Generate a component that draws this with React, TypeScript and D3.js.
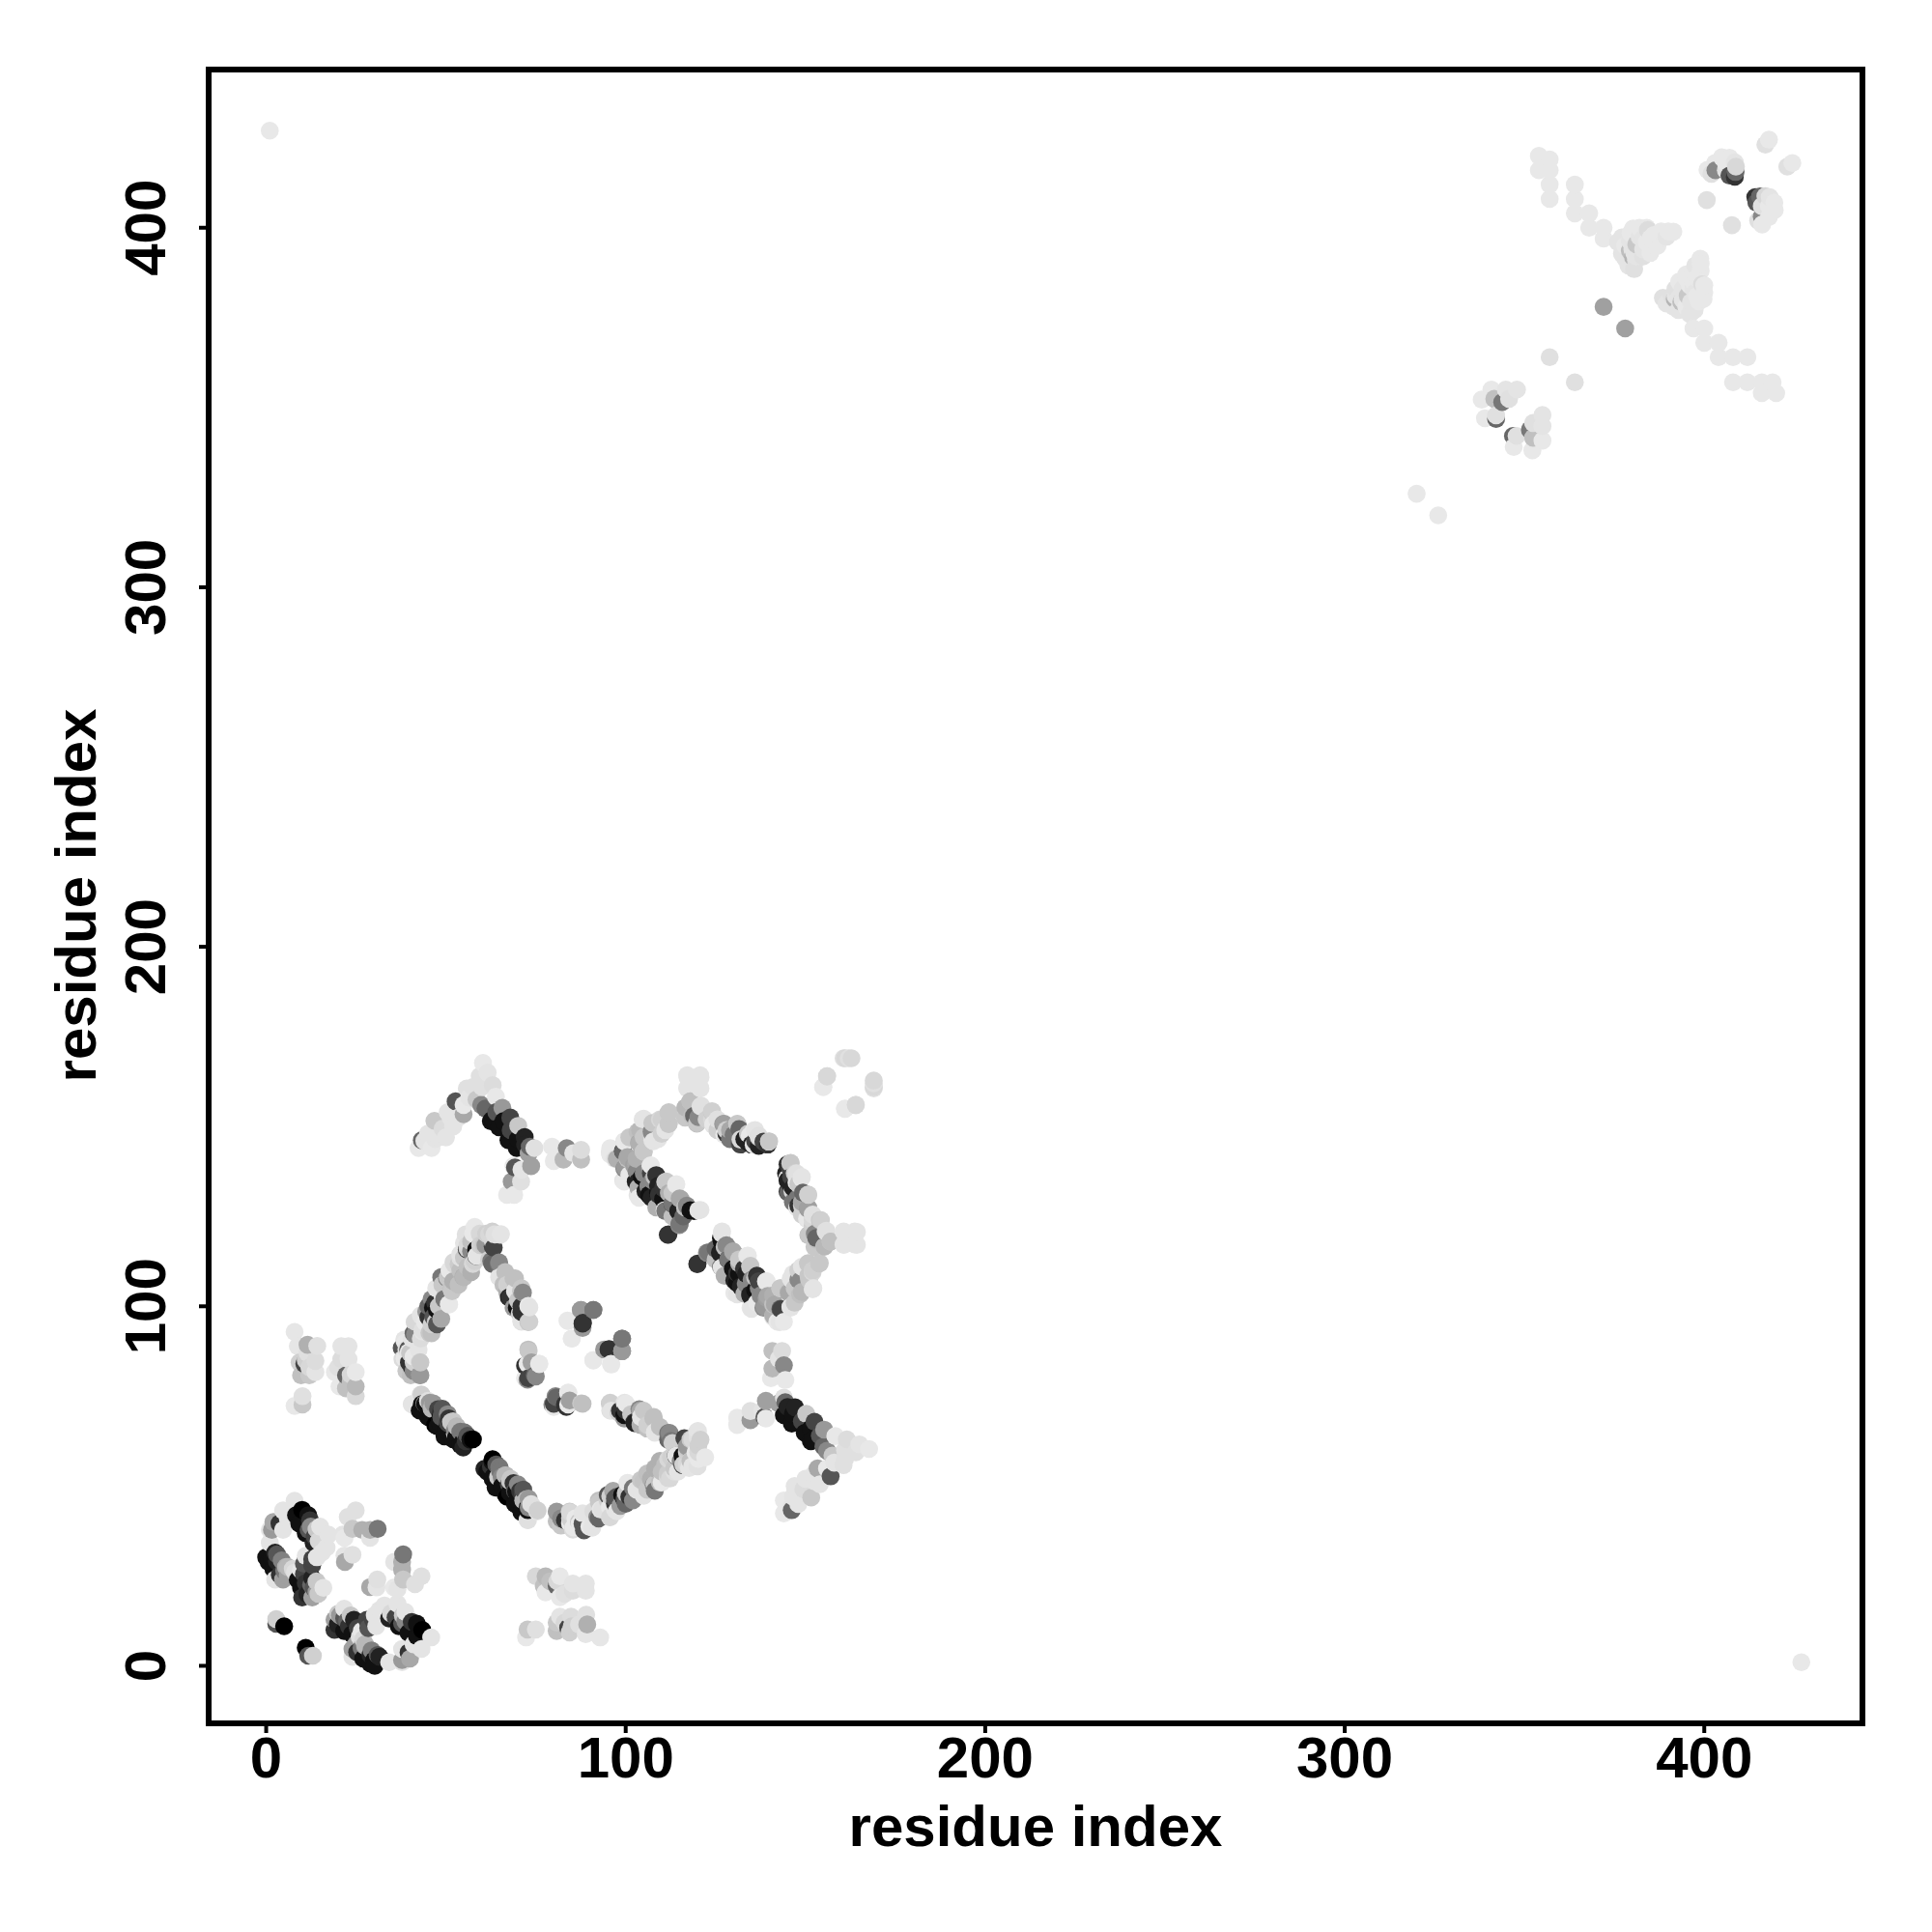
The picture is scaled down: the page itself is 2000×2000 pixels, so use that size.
import React from "react";
import * as d3 from "d3";

type C = [number, number, number];

// Contacts as [residue i, residue j, shade 0..255]; the map is symmetric.
const helixPairs: C[] = [
  [7.9,45.9,228],[4.7,43.2,228],[2,40,168],[1.6,37.8,153],[3.7,39.6,51],[4.7,37.8,228],[1,37.8,228],[1,34.2,228],[6,41,228],
  [8.3,41.9,17],[9.2,39.6,17],[10,43.4,0],[11,36.9,17],[11.7,41.9,17],[12.4,38.7,136],[12.2,40.5,51],[13.2,34.2,34],[11.8,37.8,85],[13.5,36,68],[14,38,200],[15,38.7,228],[17.3,36.5,228],[14.6,34.7,216],
  [21.3,36.5,228],[24.9,43.2,224],[22.7,41.4,224],[24,38.1,200],[21.8,35.6,232],[26.7,37.8,176],[28.9,37.8,176],[28.9,35.6,228],[31,38.1,119],
  [21.9,28.9,168],[21.8,30.7,228],[24,30.9,224],
  [11,30.6,228],[12.8,29.7,68],[12.8,28,68],[10.5,28.4,85],[15.5,31.5,228],[14.1,30.2,228],[16.8,32.9,228],
  [0,30.2,17],[0.7,28.9,17],[1.5,30,17],[2,27,17],[3,29,34],[2.5,31.5,34],[3,31,85],[4.3,29.3,128],[5.5,27.5,176],[5,26.5,119],[6,27.5,184],[7.4,27,216],[8,26,224],[3.8,25.3,51],[2.5,24,228],[4.7,24,160],[6,25,160],
  [8.8,23.9,17],[9.7,21.7,17],[10,19,51],[10.5,25.5,68],[11,23,51],[11.5,19.9,34],[12.5,22.5,102],[12.8,24.4,34],[13.2,21.7,85],[14,20.5,153],[14,23.5,200],[14.5,20,200],[15.9,21.7,228],[12.8,19,160],[9.7,26.6,232],
  [2.8,13,208],[2.8,11.7,85],[5,11,0],
];
const farCluster: C[] = [
  [7.9,92.9,230],[8.8,88.9,230],[11.5,89.3,176],[14.2,89,224],[13.7,84.8,220],[10.6,84,68],[9.3,84.4,208],[9.7,80.8,192],[12,80.8,200],[13.7,81.7,228],[7.9,72.3,232],[10.1,72.7,200],[10.1,75,224],[11,85,208],[11.5,87,224],[12,83,216],
  [19.1,81.7,232],[20.9,88.9,228],[22.9,88.9,228],[20.9,85.3,220],[22.9,85.3,228],[20.4,77.7,232],[22.2,80.8,102],[22.2,77.2,192],[24.9,77.7,184],[24.9,75,216],[24.9,81.7,232],[20,83,224],[23.5,81,216],[23.5,79,192],
];
const risingChain: C[] = [
  [38.4,90.7,228],[37.9,85.3,220],[37.7,88.4,85],[39,88,224],[39,82,200],[40,87,200],[40.2,80.8,192],[41,84.5,208],[42.9,80.8,153],[42.9,84.4,200],[39.7,84.4,51],[42.4,88,228],[43,91,220],[43.5,93,228],[43,97.5,228],[41.3,95.6,220],[41,92.5,102],[44.2,95.6,232],[45.1,97,51],[45.1,100,102],[46.4,99.6,17],[46,92.5,192],[46,95,208],[47,97.5,85],[48,100,200],[48.7,96.5,168],[47.5,95,85],[49.5,102,119],[49,104,228],[50.9,100.5,232],[47.3,105,228],[48.7,108.1,119],[50.5,108,200],[52,107,176],[53.5,106,192],[51,110,232],[51.4,105,196],[52.3,111.7,216],[55,108.1,184],[53.5,111.7,204],[54,113.5,224],[56,111,192],[57,109.5,176],[58,112.6,208],[55.8,115.8,68],[57,115.3,136],[58.5,114,228],[57.6,120.2,232],[55,117.6,228],[57,118,224],[59.5,117,208],[59.4,120.2,216],[60.5,117,200],[61.2,120.2,208],[62,120,216],[63.5,120,224],[65.3,120.1,228],[63,116.7,68],[63,118.5,216],[62.6,112.6,119],[64.8,112.2,136],[64.8,108.1,228],[66,106,192],[68.8,107.7,192],[67,104.1,176],[71,104.1,168],[67.5,102.5,34],[69.7,99.6,17],[68.8,99.6,153],[72.9,100.1,232],[71,96,228],[72.9,95.6,200],
  [72.9,88,192],[76,84,232],[73.8,84.4,160],[72,83.5,51],[74.7,80.8,102],[72.9,80,68],[72,80,232],
];
const fallingChain: C[] = [
  [40.6,72.7,228],[42.9,75.4,232],[44.2,72.8,17],[46,70,17],[46.5,73,153],[45.5,73.2,153],[43.3,72.8,17],[47.8,71.4,68],[45.1,69.2,17],[48.2,67.8,17],[48.7,69.2,85],[49,71.5,85],[50,65.6,17],[50.5,70,136],[51.4,67.8,200],[47,67,0],[52,68,200],[52.7,63.3,17],[53,66.5,180],[54.5,62,17],[54,65.1,119],[52.5,64.5,204],[55,65,119],[56,64,85],[54,61.5,17],[56.8,62.9,17],[49.6,63.8,17],
  [60.7,54.8,34],[62.5,55.5,51],[63,57.5,0],[63,52,17],[64.8,55.3,119],[65.5,52.5,136],[66.6,53,184],[66.6,47.7,17],[67.5,50.5,68],[68.8,50.8,51],[69.3,45,17],[69.5,48.5,17],[70.6,48.6,51],[71,42.7,17],[71.5,46,184],[72.4,46.3,184],[73,44,136],[73.7,45,224],[75.5,43.2,208],[72.8,40.5,224],
  [80.9,42.7,153],[82,41,136],[84.5,42.7,216],[84.5,39.6,232],[85.5,38.5,232],[86,41,232],[87.2,39.6,232],[83.1,40.5,51],[88,39.5,85],[89.9,38.7,232],[91,40.5,228],[92.6,45.4,200],[92.1,41.4,136],[93.5,43.5,224],[95.7,41.4,216],[95.7,47.2,208],[97,43.5,228],[97,46.5,85],[98.5,44.5,153],[99,47.5,17],[99.7,46.3,85],[100.6,50.8,232],[101,47,51],[102,46,136],[103,49,228],[104.2,51.7,200],[106,49,200],[107.8,50.3,136],[108.2,54.8,176],[109.5,51,192],[110,54,192],[112.3,52.1,216],[111.8,57.5,216],[113.5,55,200],[114,58.4,51],[114.5,54,228],[115.8,58.4,17],[116,56,208],[117,56,216],[117,61,153],[118,57,192],[118,63,200],[118.5,55.5,228],[119.4,59.3,232],[120,55.5,224],[120.8,62.9,208],[119.9,65.1,224],[122.1,58,232],[116.3,63.3,68],[113,62,208],[111.8,64.7,119],[111.8,62.9,102],[109.5,66.5,192],[108.2,65.1,228],[107.8,69.2,192],[106,67,208],[105,71,200],[104.2,69.2,228],[103.8,71.4,136],[102.4,67.8,51],[101.5,70,200],[100,71,51],[99.7,73.2,228],[98.4,71,51],[98,70.5,208],[95.7,71,224],[95.7,73.2,208],
  [87.6,73,200],[84,75.9,228],[83.1,72.7,51],[80.5,75,136],[79.6,72.7,136],[84,72.7,232],
];
const isolated: C[] = [
  [91,99,119],[87.6,99,153],[88.1,95.4,51],[83.8,96,232],[85,91,232],[99,91,119],[99,87.5,160],[95.2,88,51],[94,88,153],[91,85,232],[95.9,84,232],
];
const upperBand: C[] = [
  [95.7,144,232],[95.7,142.2,232],[97,141,224],[99.8,145.8,232],[99.3,143,102],[99.8,138.6,153],[99.3,135,228],[100.5,141.5,168],[101,136.5,232],[101,147,200],[103.3,148.5,192],[103.8,145.3,176],[102.9,139.5,168],[103.3,134.6,34],[103.3,131,228],[104.7,152,228],[105,143,208],[105,137,136],[107.4,151,200],[107.4,148,136],[107.4,146.2,228],[106.9,139,228],[107.4,135,136],[106.5,131,17],[108.5,136.5,51],[109,133.5,34],[109,146.5,228],[109.5,152,216],[111.9,153.8,200],[111.9,150.7,200],[111,149,228],[111,134.6,200],[112,131.5,176],[109.2,131,51],[111,126.5,119],[113,128.5,51],[113,125,192],[114.1,134,232],[115,130,168],[114.6,126.5,34],[115,123,119],[116,125,102],[116.5,127.5,192],[111.9,120,51],[119,126.5,17],[120.8,126.8,228],
  [117.2,163.7,228],[120.8,163.7,228],[117.2,160.6,228],[120.8,160.6,228],[116.6,155.2,200],[118,157,200],[120.8,155.6,224],[119.9,151,200],[119,153,102],[122.5,152,208],[124,154.3,208],[124.4,150.7,232],[125.5,152,224],[127.1,150.7,153],[128,148,51],[129,149,168],[129,146.5,119],[131.1,150.7,200],[131.6,149.3,102],[131.6,145.3,102],[133.8,145.8,34],[134,148,200],[135.6,148.9,232],[135.6,144.9,228],[136,146,68],[137,147.5,224],[138.3,145.8,68],[139.8,145.8,208],
];
const rightArc: C[] = [
  [144.6,137,34],[145,139.5,51],[145,135,34],[145,131.9,68],[145.9,139.9,200],[146.4,131.9,216],[146.5,133,34],[147,137,208],[147.5,134.5,232],[147.7,130,119],[147.7,127.4,232],[149,136,228],[149,128,208],[149,125.5,208],[150.8,131,208],[150.8,127.4,160],[150.4,124.3,228],[152,124,216],[154,124,200],[150.8,119.8,192],[152.6,120.2,136],[153,118.5,192],[152.5,116.5,200],[155.8,121,224],[155.3,116.6,184],[157,118,192],
  [160.7,120.7,228],[164.3,120.7,228],[160.7,117.1,228],[164.3,117.1,228],
];
const lowerArc: C[] = [
  [154,112,200],[150.8,112,200],[150.8,108.6,200],[145.9,107.7,228],[152.2,105,228],[148.6,107.2,136],[149,104,184],[145.5,103.7,168],[145.9,99.6,228],[143.2,99.2,68],[142.8,95.6,228],[147,105,200],[148,110,208],[152,110,208],[143,105,200],[141,103,176],[141,100.5,192],[141,97.5,176],[139.2,107,232],[137,107,68],[139.2,102.3,160],[138.3,99.6,136],[137.5,103,136],[136,108,192],[136,104.5,17],[134.7,102.8,34],[134.7,99.6,232],[134.7,111.3,200],[133.8,114,228],[133,103.5,176],[132.9,110.4,51],[133.4,106.3,136],[132,105.5,34],[131.5,113,200],[131.5,109,17],[129.8,115.3,168],[130.2,107.2,34],[130.2,103.7,232],[129.8,110.4,17],[128.5,113,119],[128,117,136],[127.5,108.5,176],[126.7,120.2,228],[126.7,118,17],[126.2,114.9,34],[126.7,110.8,228],[122.6,114.9,136],[119.9,111.7,51],
  [162,169,224],[160.6,169,224],[156,164,216],[154.9,161,232],[169,162.8,216],[169,161,216],[164,156,216],[161,155,232],
];
const wedge: C[] = [
  [42.4,144,232],[46,144,232],[43.3,146.2,102],[44,146,228],[45,148,228],[47,146.5,228],[48,147,228],[49.1,149.4,220],[50,147,228],[46.8,151.6,200],[51.3,152.5,228],[52,150,228],[53.5,152.5,228],[50.5,154,228],[54.9,156,232],[52.7,157,85],[54.9,153.4,168],[55.8,160.6,224],[56.5,158,228],[57.5,161,224],[58.5,157.5,200],
  [60.3,167.7,232],[61.6,165,228],[59.4,164,224],[60,161,224],[63,161.5,220],[63.9,158.3,232],[59.8,156,136],[61,155,102],[62.5,151.5,17],[64,154,85],[65.7,155.2,153],[66,151.5,17],[67.9,152.5,68],[68,149,68],[70.1,150.2,200],[70,146.5,17],[71.9,147.1,34],[72,145,34],[63,152,17],[64.8,149.8,17],[67.4,146.2,17],[69.7,144,17],[73,142.5,160],[73.3,144.4,102],[74.6,144,224],[69.2,138.6,85],[68.8,139,232],[73.7,139,160],[71,138,228],[68.3,134.7,153],[70.9,134.7,224],[67,131,232],[69,131,232],
  [79.5,144.4,232],[80,140.4,232],[83.6,144,136],[82.7,140.8,184],[85.4,142.6,228],[87.6,143.5,220],[87.6,140.8,192],
];
const domainTwo: C[] = [
  [1,427,232],[320,326,232],[372,378,160],[357,364,224],
  [338.1,352.2,232],[340.8,355,232],[339,347,232],[342.1,346.8,102],[342.1,347.8,224],[341.6,352.4,192],[344.8,355,228],[347.9,355,228],[343.8,351.5,119],[345.7,352.4,224],
  [354,416,232],[354,420,232],[357,408,232],[357,412,232],[357,416,232],[357,419,232],[364,404,232],[364,408,232],[364,412,232],[368,400,232],[368,404,232],[372,397,232],[372,400,232],
  [376,396,228],[377.1,397.3,228],[377.1,392.8,228],[378,395,232],[378,391.5,228],[378.9,389.5,228],[379.3,396.3,228],[379.3,393.6,190],[379.5,398.5,232],[380,394,228],[380.2,399.8,232],[380.2,391.8,180],[380.5,393,228],[380.5,388.5,224],[381,392,228],[381,391,224],[381.1,395.4,200],[381,398,232],[382,400,232],[382,397.5,228],[383,397,228],[383,394,228],[383,392,224],[384,400,232],[384,396,232],[384.3,399.4,220],[385,397,232],[385,393,232],[386,398,232],[386,395,232],[387,395,232],[388,399,232],[388,397,232],[389.5,397.5,228],[390,399,232],[391.4,398.9,232],
  [400.7,407.7,224],[400.9,416.1,232],[402,415,224],[403,418,232],[403.1,416,136],[404.9,419.6,232],[406,416,224],[406,418,232],[407,419.5,232],[407,414.5,85],[408.5,414.2,51],[408.7,415.5,102],[408.8,417,216],[408.5,418.2,228],[417,423.1,224],[418,424.5,232],
];

const tickValues = [0, 100, 200, 300, 400];
const axisTitle = "residue index";

const halfMap: C[] = [helixPairs, farCluster, risingChain, fallingChain, isolated, upperBand, rightArc, lowerArc, wedge, domainTwo].flat();
const points: C[] = halfMap
  .flatMap(([i, j, s]): C[] => [[i, j, s], [j, i, s]])
  .sort((a, b) => d3.ascending(a[0], b[0]) || d3.ascending(a[1], b[1]));

const x = d3.scaleLinear().domain([-16, 444]).range([216, 1928]);
const y = d3.scaleLinear().domain([-16, 444]).range([1784, 72]);
const shade = d3.scaleLinear<string>().domain([0, 255]).range(["#000000", "#ffffff"]);

const font = "'Liberation Sans', Arial, sans-serif";

export default function App() {
  return (
    <svg width={2000} height={2000} style={{ position: "absolute", left: 0, top: 0, background: "#fff" }}>
      {points.map((d, k) => (
        <circle key={k} cx={x(d[0])} cy={y(d[1])} r={9.3} fill={shade(d[2])} />
      ))}
      <rect x={216} y={72} width={1712} height={1712} fill="none" stroke="#000" strokeWidth={6} />
      {tickValues.map((t) => (
        <g key={t}>
          <line x1={x(t)} x2={x(t)} y1={1784} y2={1794} stroke="#000" strokeWidth={4} />
          <text x={x(t)} y={1840} textAnchor="middle" fontFamily={font} fontWeight="700" fontSize={60}>{t}</text>
          <line x1={206} x2={216} y1={y(t)} y2={y(t)} stroke="#000" strokeWidth={4} />
          <text transform={`translate(171,${y(t)}) rotate(-90)`} textAnchor="middle" fontFamily={font} fontWeight="700" fontSize={60}>{t}</text>
        </g>
      ))}
      <text x={1072} y={1911} textAnchor="middle" fontFamily={font} fontWeight="700" fontSize={60}>{axisTitle}</text>
      <text transform="translate(99,927) rotate(-90)" textAnchor="middle" fontFamily={font} fontWeight="700" fontSize={60}>{axisTitle}</text>
    </svg>
  );
}
